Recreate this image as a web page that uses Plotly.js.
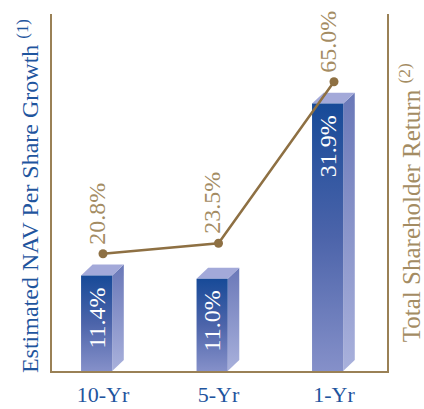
<!DOCTYPE html>
<html>
<head>
<meta charset="utf-8">
<script src="https://cdn.plot.ly/plotly-3.0.1.min.js"></script>
<style>html,body{margin:0;padding:0;background:#fff;}#chart{width:424px;height:409px;}</style>
</head>
<body>
<div id="chart"></div>
<script>
// ---- data ----
const categories = ['10-Yr', '5-Yr', '1-Yr'];
const navGrowth = [11.4, 11.0, 31.9];      // Estimated NAV per share growth (%)
const tsr = [20.8, 23.5, 65.0];             // Total shareholder return (%)
const navLabels = ['11.4%', '11.0%', '31.9%'];
const tsrLabels = ['20.8%', '23.5%', '65.0%'];

// ---- style / geometry ----
const FRONT_L = -0.19, FRONT_R = 0.08, DX = 0.10, DY = 1.31;
const BROWN = '#9a8156';
const TAN = '#a48c63';
const BLUE = '#1f559e';
const FONT = 'Liberation Serif, Times New Roman, serif';

const xpos = categories.map((c, i) => i);
const traces = [];

xpos.forEach((x, i) => {
  const v = navGrowth[i];
  const l = x + FRONT_L, r = x + FRONT_R;
  // side face
  traces.push({
    type: 'scatter', mode: 'lines', hoverinfo: 'skip', showlegend: false,
    x: [r, r + DX, r + DX, r, r], y: [0, DY, v + DY, v, 0],
    fill: 'toself', line: {width: 0, color: 'rgba(0,0,0,0)'},
    fillcolor: '#8c97cc',
    fillgradient: {type: 'vertical', start: 0, stop: v + DY,
      colorscale: [[0, '#a9b1dc'], [1, '#6a78b8']]}
  });
  // top face
  traces.push({
    type: 'scatter', mode: 'lines', hoverinfo: 'skip', showlegend: false,
    x: [l, r, r + DX, l + DX, l], y: [v, v, v + DY, v + DY, v],
    fill: 'toself', line: {width: 0, color: 'rgba(0,0,0,0)'},
    fillcolor: '#a3a9d9'
  });
  // front face
  traces.push({
    type: 'scatter', mode: 'lines', hoverinfo: 'skip', showlegend: false,
    x: [l, r, r, l, l], y: [0, 0, v, v, 0],
    fill: 'toself', line: {width: 0, color: 'rgba(0,0,0,0)'},
    fillcolor: '#4a62a8',
    fillgradient: {type: 'vertical', start: 0, stop: v,
      colorscale: [[0, '#8590c9'], [0.5, '#4c64aa'], [1, '#174a98']]}
  });
});

// TSR line
traces.push({
  type: 'scatter', mode: 'lines+markers', hoverinfo: 'skip', showlegend: false,
  x: xpos, y: tsr, yaxis: 'y2',
  line: {color: '#8e7043', width: 2.5},
  marker: {color: '#8e7043', size: 9}
});

const annotations = [];
xpos.forEach((x, i) => {
  annotations.push({
    x: x + (FRONT_L + FRONT_R) / 2, y: navGrowth[i], xref: 'x', yref: 'y',
    text: navLabels[i], showarrow: false, textangle: -90,
    xanchor: 'center', yanchor: 'top', yshift: -10,
    font: {family: FONT, size: 24, color: '#ffffff'}
  });
  annotations.push({
    x: x, y: tsr[i], xref: 'x', yref: 'y2',
    text: tsrLabels[i], showarrow: false, textangle: -90,
    xanchor: 'center', yanchor: 'bottom', yshift: 7, xshift: -6,
    font: {family: FONT, size: 24, color: TAN}
  });
});
annotations.push({
  x: 0, y: 0.49, xref: 'paper', yref: 'paper', xshift: -24,
  text: 'Estimated NAV Per Share Growth <sup>(1)</sup>', showarrow: false,
  textangle: -90, xanchor: 'center', yanchor: 'middle',
  font: {family: FONT, size: 24, color: BLUE}
});
annotations.push({
  x: 1, y: 0.47, xref: 'paper', yref: 'paper', xshift: 23,
  text: 'Total Shareholder Return <sup>(2)</sup>', showarrow: false,
  textangle: -90, xanchor: 'center', yanchor: 'middle',
  font: {family: FONT, size: 25, color: TAN}
});

const layout = {
  width: 424, height: 409,
  margin: {l: 52, r: 37, t: 14, b: 38},
  paper_bgcolor: '#ffffff', plot_bgcolor: '#ffffff',
  showlegend: false,
  xaxis: {
    range: [-0.4416, 2.459], tickvals: xpos, ticktext: categories,
    showgrid: false, zeroline: false, showline: true, linecolor: BROWN, linewidth: 2,
    ticks: '', ticklabelstandoff: 3,
    tickfont: {family: FONT, size: 22, color: BLUE}, fixedrange: true
  },
  yaxis: {
    range: [0, 42.59], showgrid: false, zeroline: false, showticklabels: false,
    showline: true, linecolor: BROWN, linewidth: 2, ticks: '', fixedrange: true
  },
  yaxis2: {
    range: [-9.33, 82.42], overlaying: 'y', side: 'right', showgrid: false,
    zeroline: false, showticklabels: false, showline: true, linecolor: BROWN,
    linewidth: 2, ticks: '', fixedrange: true
  },
  annotations: annotations
};

Plotly.newPlot('chart', traces, layout, {displayModeBar: false, staticPlot: true});
</script>
</body>
</html>
